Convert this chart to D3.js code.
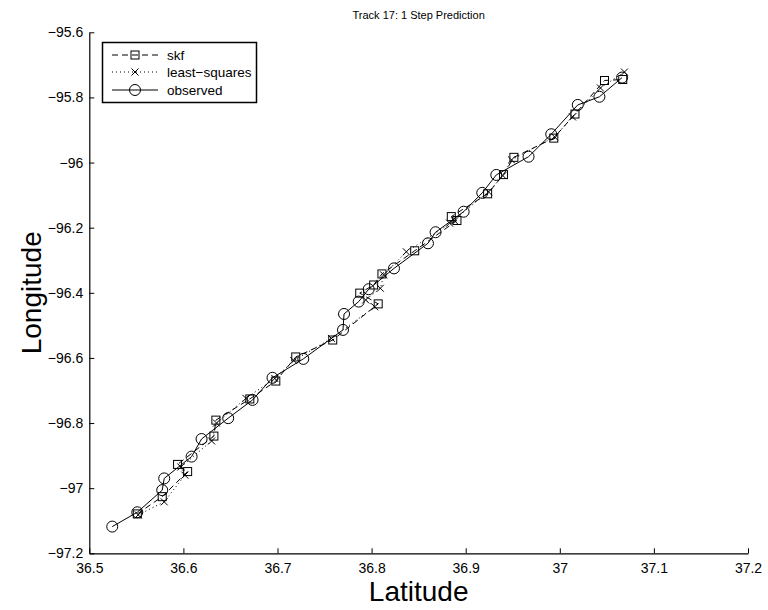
<!DOCTYPE html>
<html><head><meta charset="utf-8">
<script src="https://cdn.jsdelivr.net/npm/d3@7"></script>
<style>body{margin:0;background:#fff;} text{font-family:"Liberation Sans",Arial,Helvetica,sans-serif;}</style>
</head><body>
<svg id="c" width="768" height="610"></svg>
<script>
const obsLat = [36.5244,36.551,36.5775,36.5796,36.6087,36.6193,36.6476,36.6735,36.6947,36.7274,36.7696,36.7707,36.7863,36.7969,36.8238,36.8599,36.868,36.8978,36.9176,36.9325,36.9668,36.9909,37.0191,37.0421,37.0662];
const obsLon = [-97.118,-97.074,-97.006,-96.970,-96.903,-96.849,-96.785,-96.729,-96.661,-96.603,-96.514,-96.465,-96.427,-96.389,-96.325,-96.248,-96.214,-96.151,-96.093,-96.038,-95.982,-95.913,-95.823,-95.798,-95.739];
const skfLat = [36.551,36.5775,36.6045,36.5938,36.6324,36.6345,36.6706,36.6982,36.7194,36.7587,36.807,36.7874,36.8022,36.811,36.8458,36.8907,36.8847,36.9233,36.9402,36.9512,36.9936,37.0161,37.0475,37.0669];
const skfLon = [-97.079,-97.026,-96.949,-96.927,-96.840,-96.791,-96.726,-96.671,-96.597,-96.545,-96.434,-96.401,-96.376,-96.342,-96.271,-96.178,-96.166,-96.096,-96.037,-95.984,-95.925,-95.851,-95.748,-95.745];
const lsLat = [36.552,36.5796,36.6016,36.5973,36.630,36.6352,36.6664,36.6971,36.7173,36.7573,36.8033,36.7937,36.8093,36.8128,36.8369,36.8882,36.8829,36.9243,36.9395,36.9487,36.9944,37.0135,37.0432,37.0687];
const lsLon = [-97.082,-97.042,-96.960,-96.935,-96.855,-96.800,-96.724,-96.663,-96.608,-96.540,-96.443,-96.422,-96.386,-96.345,-96.274,-96.179,-96.186,-96.090,-96.040,-95.992,-95.921,-95.860,-95.771,-95.722];
const xTicks = [36.5,36.6,36.7,36.8,36.9,37,37.1,37.2];
const yTicks = [-95.6,-95.8,-96,-96.2,-96.4,-96.6,-96.8,-97,-97.2];
const title = "Track 17: 1 Step Prediction";
const legendLabels = ["skf","least\u2212squares","observed"];

const svg = d3.select("#c");
const L=89.3, R=748, T=32.3, B=553.3;
const x = d3.scaleLinear().domain([36.5,37.2]).range([L,R]);
const y = d3.scaleLinear().domain([-97.2,-95.6]).range([B,T]);
const fmt = v => (v<0?"\u2212":"") + d3.format("")(Math.abs(+v.toFixed(1)));

// axes
const xa = svg.append("g").attr("transform",`translate(0,${B})`)
  .call(d3.axisBottom(x).tickValues(xTicks).tickSizeInner(-5).tickSizeOuter(0).tickPadding(10).tickFormat(fmt));
const ya = svg.append("g").attr("transform",`translate(${L},0)`)
  .call(d3.axisLeft(y).tickValues(yTicks).tickSizeInner(-5).tickSizeOuter(0).tickPadding(6).tickFormat(fmt));
[xa,ya].forEach(a=>{a.selectAll("path").attr("stroke","#000").attr("stroke-width",1.2);
  a.selectAll("line").attr("stroke","#000");
  a.selectAll("text").attr("font-size",14).attr("fill","#000").attr("font-family","'Liberation Sans',Arial,sans-serif");});

svg.append("text").attr("x",(L+R)/2).attr("y",19).attr("text-anchor","middle").attr("font-size",11).text(title);
svg.append("text").attr("x",(L+R)/2).attr("y",601).attr("text-anchor","middle").attr("font-size",28).text("Latitude");
svg.append("text").attr("transform",`translate(41,${(T+B)/2}) rotate(-90)`).attr("text-anchor","middle").attr("font-size",28).text("Longitude");

const line = d3.line().x(d=>x(d[0])).y(d=>y(d[1]));
const skf = skfLat.map((v,i)=>[v,skfLon[i]]);
const ls = lsLat.map((v,i)=>[v,lsLon[i]]);
const obs = obsLat.map((v,i)=>[v,obsLon[i]]);

const g = svg.append("g");
function sq(sel,cx,cy){sel.append("rect").attr("x",cx-4).attr("y",cy-4).attr("width",8).attr("height",8).attr("fill","none").attr("stroke","#000").attr("stroke-width",1);}
function cross(sel,cx,cy){const s=3.5;sel.append("path").attr("d",`M${cx-s},${cy-s}L${cx+s},${cy+s}M${cx-s},${cy+s}L${cx+s},${cy-s}`).attr("stroke","#000").attr("stroke-width",1).attr("fill","none");}
function circ(sel,cx,cy){sel.append("circle").attr("cx",cx).attr("cy",cy).attr("r",5.5).attr("fill","none").attr("stroke","#000").attr("stroke-width",1);}

g.append("path").datum(skf).attr("d",line).attr("fill","none").attr("stroke","#000").attr("stroke-width",1).attr("stroke-dasharray","6,4");
skf.forEach(d=>sq(g,x(d[0]),y(d[1])));
g.append("path").datum(ls).attr("d",line).attr("fill","none").attr("stroke","#000").attr("stroke-width",1).attr("stroke-dasharray","1,3");
ls.forEach(d=>cross(g,x(d[0]),y(d[1])));
g.append("path").datum(obs).attr("d",line).attr("fill","none").attr("stroke","#000").attr("stroke-width",1);
obs.forEach(d=>circ(g,x(d[0]),y(d[1])));

// legend
const lg = svg.append("g");
lg.append("rect").attr("x",102.5).attr("y",42.5).attr("width",154).attr("height",60).attr("fill","#fff").attr("stroke","#000").attr("stroke-width",1.5);
const rows=[55,72,90], dash=["6,4","1,3",null];
rows.forEach((ry,i)=>{
  const ln=lg.append("line").attr("x1",112).attr("x2",158).attr("y1",ry).attr("y2",ry).attr("stroke","#000").attr("stroke-width",1);
  if(dash[i]) ln.attr("stroke-dasharray",dash[i]);
  if(i===0) sq(lg,135,ry); else if(i===1) cross(lg,135,ry); else circ(lg,135,ry);
  lg.append("text").attr("x",167).attr("y",ry+5).attr("font-size",13.5).text(legendLabels[i]);
});
</script>
</body></html>
